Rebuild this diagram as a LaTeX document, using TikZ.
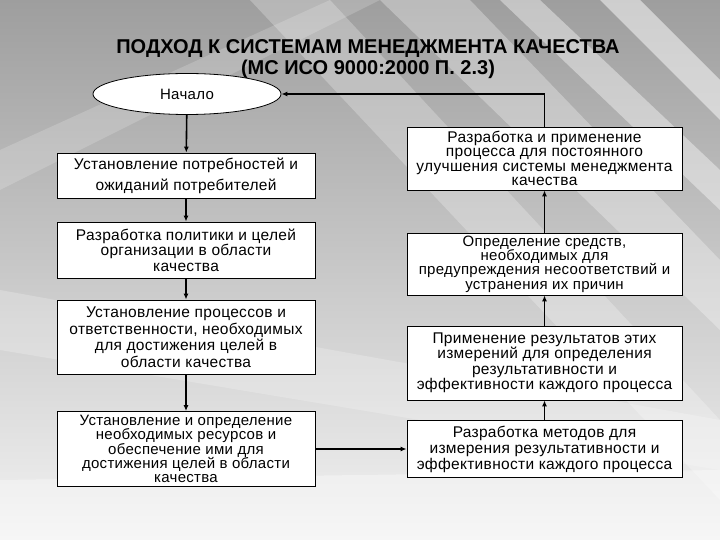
\documentclass[tikz,border=0pt]{standalone}
\usepackage{fontspec}
\setmainfont[LetterSpace=2]{Liberation Sans}
\newfontfamily\titlefont{Liberation Sans}
\usetikzlibrary{shapes.geometric,arrows.meta}
\begin{document}
\begin{tikzpicture}[x=1pt,y=-1pt,
  box/.style={draw=black, line width=0.8pt, fill=white, align=center, inner sep=0pt,
    font=\fontsize{15.5}{15}\selectfont},
  lbox/.style={box, minimum width=258pt},
  rbox/.style={box, minimum width=275pt},
  arr/.style={line width=1.6pt, -{Latex[length=6pt,width=5pt]}},
  streak/.style={fill=white, draw=none}
]
\useasboundingbox (0,0) rectangle (720,540);
% background
\shade[top color=black!38, bottom color=black!5] (0,0) rectangle (720,540);
\fill[streak, opacity=0.3] (380,0) -- (470,0) -- (720,260) -- (720,330) -- cycle;
\fill[streak, opacity=0.4] (500,0) -- (540,0) -- (720,170) -- (720,210) -- cycle;
\fill[streak, opacity=0.5] (600,0) -- (640,0) -- (720,80) -- (720,120) -- cycle;
\fill[streak, opacity=0.25] (250,0) -- (330,0) -- (720,420) -- (720,500) -- cycle;
\fill[streak, opacity=0.22] (0,290) -- (0,350) -- (720,470) -- (720,420) -- cycle;
\fill[streak, opacity=0.18] (0,150) -- (0,190) -- (380,0) -- (330,0) -- cycle;
\fill[streak, opacity=0.35] (0,480) -- (0,540) -- (720,540) -- (720,470) -- cycle;

% title
\node[font=\titlefont\bfseries\fontsize{20}{21}\selectfont, align=center] (title) at (368,59)
  {ПОДХОД К СИСТЕМАМ МЕНЕДЖМЕНТА КАЧЕСТВА\\(МС ИСО 9000:2000 П. 2.3)};

% start
\node[ellipse, draw=black, line width=0.8pt, fill=white, minimum width=188pt, minimum height=41pt,
  inner sep=0pt, font=\fontsize{15}{15}\selectfont] (start) at (187,94) {Начало};

% left column
\node[lbox, minimum height=45pt, font=\fontsize{15.5}{21}\selectfont] (l1) at (186,175.5)
  {Установление потребностей и\\ожиданий потребителей};
\node[lbox, minimum height=56pt, font=\fontsize{15.5}{15.5}\selectfont] (l2) at (186,250)
  {Разработка политики и целей\\организации в области\\качества};
\node[lbox, minimum height=74pt, font=\fontsize{15.5}{16.5}\selectfont] (l3) at (186,337)
  {Установление процессов и\\ответственности, необходимых\\для достижения целей в\\области качества};
\node[lbox, minimum height=75pt, font=\fontsize{15}{14.3}\selectfont] (l4) at (186,449)
  {Установление и определение\\необходимых ресурсов и\\обеспечение ими для\\достижения целей в области\\качества};

% right column
\node[rbox, minimum height=63pt, font=\fontsize{15.5}{14.5}\selectfont] (r1) at (544.5,158.5)
  {Разработка и применение\\процесса для постоянного\\улучшения системы менеджмента\\качества};
\node[rbox, minimum height=62pt, font=\fontsize{15}{14.3}\selectfont] (r2) at (544.5,264)
  {Определение средств,\\необходимых для\\предупреждения несоответствий и\\устранения их причин};
\node[rbox, minimum height=74pt, font=\fontsize{15.5}{15.5}\selectfont] (r3) at (544.5,363)
  {Применение результатов этих\\измерений для определения\\результативности и\\эффективности каждого процесса};
\node[rbox, minimum height=57pt, font=\fontsize{15.5}{16}\selectfont] (r4) at (544.5,449)
  {Разработка методов для\\измерения результативности и\\эффективности каждого процесса};

% connectors
\draw[arr] (start) -- (l1);
\draw[arr] (l1) -- (l2);
\draw[arr] (l2) -- (l3);
\draw[arr] (l3) -- (l4);
\draw[arr] (l4) -- (r4);
\draw[arr] (r4) -- (r3);
\draw[arr] (r3) -- (r2);
\draw[arr] (r2) -- (r1);
\draw[arr] (r1.north) |- (start.east);
\end{tikzpicture}
\end{document}
